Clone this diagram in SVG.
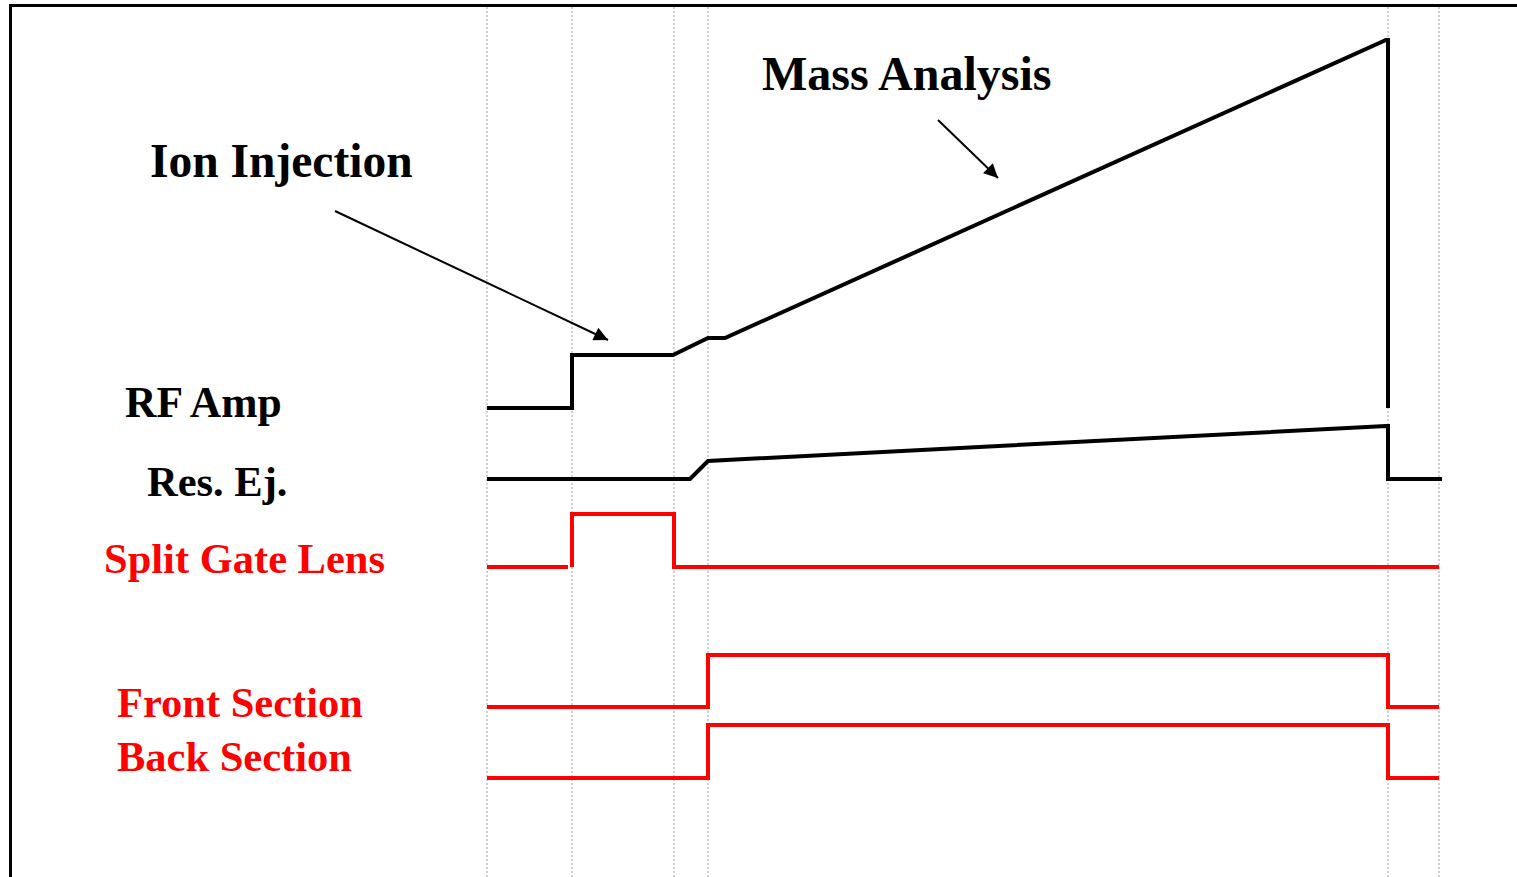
<svg xmlns="http://www.w3.org/2000/svg" width="1517" height="877" viewBox="0 0 1517 877">
<style>
.grid{stroke:#a0a0a0;stroke-width:1;stroke-dasharray:2,2;fill:none}
.sig{fill:none;stroke-width:4;stroke-linejoin:miter;stroke-linecap:butt}
.blk{stroke:#000}
.red{stroke:#ff0000}
.lbl{font-family:"Liberation Serif","Times New Roman",serif;font-weight:bold}
.ptr{stroke:#000;stroke-width:2;fill:none}
</style>
<defs>
<marker id="ah" viewBox="0 0 10 10" refX="10" refY="5" markerWidth="8" markerHeight="7" markerUnits="strokeWidth" orient="auto">
<path d="M0,0 L10,5 L0,10 z" fill="#000"/>
</marker>
</defs>
<rect width="1517" height="877" fill="#fff"/>
<path d="M10.5,877 V5.5 H1517" fill="none" stroke="#000" stroke-width="3"/>
<g id="grid">
<line class="grid" x1="487" y1="7" x2="487" y2="877"/>
<line class="grid" x1="572" y1="7" x2="572" y2="877"/>
<line class="grid" x1="674" y1="7" x2="674" y2="877"/>
<line class="grid" x1="708" y1="7" x2="708" y2="877"/>
<line class="grid" x1="1388" y1="7" x2="1388" y2="877"/>
<line class="grid" x1="1439" y1="7" x2="1439" y2="877"/>
</g>
<g id="connectors">
<line class="ptr" x1="335" y1="211" x2="608" y2="340" marker-end="url(#ah)"/>
<line class="ptr" x1="938" y1="120" x2="998" y2="178" marker-end="url(#ah)"/>
</g>
<g id="rf-amp">
<text class="lbl" x="125" y="417" font-size="43.5">RF Amp</text>
<polyline class="sig blk" points="487,408 572,408 572,355 673,355 708,338 725,338 1386,40 1388,40 1388,408"/>
</g>
<g id="res-ej">
<text class="lbl" x="147" y="496" font-size="42.5">Res. Ej.</text>
<polyline class="sig blk" points="487,479 690,479 708,461 1386,426 1388,426 1388,479 1442,479"/>
</g>
<g id="split-gate">
<text class="lbl" x="104" y="573" font-size="42.5" fill="#ff0000">Split Gate Lens</text>
<polyline class="sig red" points="487,567 568,567"/>
<polyline class="sig red" points="572,567 572,514 674,514 674,567 1439,567"/>
</g>
<g id="front-section">
<text class="lbl" x="117" y="717" font-size="42.5" fill="#ff0000">Front Section</text>
<polyline class="sig red" points="487,707 708,707 708,655 1388,655 1388,707 1439,707"/>
</g>
<g id="back-section">
<text class="lbl" x="117" y="771" font-size="42.5" fill="#ff0000">Back Section</text>
<polyline class="sig red" points="487,778 708,778 708,725 1388,725 1388,778 1439,778"/>
</g>
<g id="ion-injection">
<text class="lbl" x="150" y="177" font-size="47.5">Ion Injection</text>
</g>
<g id="mass-analysis">
<text class="lbl" x="762" y="90" font-size="48">Mass Analysis</text>
</g>
</svg>
